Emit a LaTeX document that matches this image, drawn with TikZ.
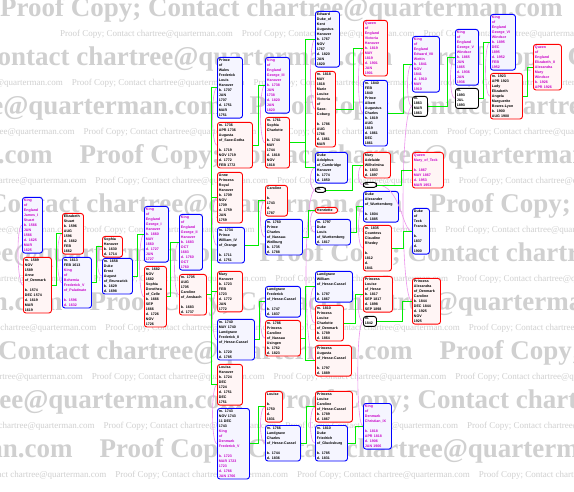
\documentclass[tikz,border=0pt]{standalone}
\usepackage{fontspec}
\setmainfont{Liberation Sans}
\newfontfamily\wmfont{Liberation Serif}
\usetikzlibrary{calc}

\definecolor{roy}{RGB}{200,0,200}
\definecolor{kingreen}{RGB}{0,235,0}
\definecolor{tiepink}{RGB}{238,150,238}
\definecolor{markgray}{RGB}{208,208,208}
\newcommand{\wm}{Proof Copy; Contact chartree@quarterman.com\quad}

\begin{document}
\begin{tikzpicture}[x=1pt, y=-1pt,
  person/.style={rectangle, draw, rounded corners=2.5pt, line width=0.9pt,
                 anchor=north west, align=left, inner xsep=1.5pt, inner ysep=1.5pt,
                 font=\fontsize{3.6}{5}\selectfont\bfseries},
  man/.style={person, draw=blue, fill=blue!4},
  woman/.style={person, draw=red, fill=red!4},
  union/.style={person, draw=black, fill=white},
  royal/.style={text=roy},
  kin/.style={draw=kingreen, line width=0.8pt},
  tie/.style={draw=tiepink, line width=0.6pt},
  wmtext/.style={anchor=west, text=markgray, inner sep=0pt},
]
  \useasboundingbox (0,0) rectangle (574,492);
  \fill[white] (0,0) rectangle (574,492);

  % watermark rows
  \begin{scope}
    \clip (0,0) rectangle (574,492);
    \foreach \k in {0,...,9} {
      \pgfmathsetmacro{\bx}{-mod(\k*170,520)}
      \node[wmtext, font=\wmfont\bfseries\fontsize{27}{27}\selectfont] (wmbig\k)
        at (\bx, 10+49*\k) {\wm\wm\wm};
      \node[wmtext, font=\wmfont\fontsize{9}{9}\selectfont] (wmsmall\k)
        at (\bx+60, 34+49*\k) {\wm\wm\wm\wm\wm\wm\wm\wm};
    }
  \end{scope}

  % Stuart
  \node[man, royal, text width=17pt] (jamesI) at (22,197) {King\\of\\England\\James\_I\\Stuart\\b. 1566\\JUN\\1566\\d. 1625\\MAR\\1625};
  \node[woman, text width=25pt] (anneD) at (23,257) {m. 1589\\NOV\\1589\\Anne\\of\_Denmark\\~\\b. 1574\\DEC 1574\\d. 1619\\MAR\\1619};
  \node[woman, text width=18pt] (elizabeth) at (62,213) {Elizabeth\\Stuart\\b. 1596\\AUG\\1596\\d. 1662\\FEB\\1662};
  \node[man, text width=26pt] (frederickP) at (62,257) {m. 1613\\FEB 1613\\\color{roy}King\\of\\Bohemia\\Frederick\_V\\of\_Palatinate\\~\\b. 1596\\d. 1632};
  \node[woman, text width=17pt] (sophia) at (102,236) {Sophia\\Hanover\\b. 1630\\d. 1714};
  \node[man, text width=27pt] (ernst) at (102,258) {m. 1658\\Duke\\Ernst\\August\\of\_Brunswick\\b. 1629\\d. 1698};

  % Hanover
  \node[man, royal, text width=21pt] (georgeI) at (144,206) {King\\of\\England\\George\_I\\Hanover\\b. 1660\\MAY\\1660\\d. 1727\\JUN\\1727};
  \node[woman, text width=19pt] (sophiaD) at (144,266) {m. 1682\\NOV\\1682\\Sophia\\Dorothea\\of\_Celle\\b. 1666\\SEP\\1666\\d. 1726\\NOV\\1726};
  \node[man, royal, text width=20pt] (georgeII) at (179,214) {King\\of\\England\\George\_II\\Hanover\\b. 1683\\OCT\\1683\\d. 1760\\OCT\\1760};
  \node[woman, text width=24pt] (carolineA) at (179,274) {m. 1705\\AUG\\1705\\Caroline\\of\_Ansbach\\~\\b. 1683\\d. 1737};

  \node[man, text width=22pt] (frederickW) at (217,57) {Prince\\of\\Wales\\Frederick\\Louis\\Hanover\\b. 1707\\JAN\\1707\\d. 1751\\MAR\\1751};
  \node[woman, text width=32pt] (augustaS) at (217,122) {m. 1736\\APR 1736\\Augusta\\of\_Saxe-Gotha\\~\\b. 1719\\NOV 1719\\d. 1772\\FEB 1772};
  \node[woman, text width=22pt] (anneH) at (217,172) {Anne\\Princess\\Royal\\Hanover\\b. 1709\\NOV\\1709\\d. 1759\\JAN\\1759};
  \node[man, text width=24pt] (williamO) at (217,227) {m. 1734\\Prince\\William\_IV\\of\_Orange\\~\\b. 1711\\d. 1751};
  \node[woman, text width=22pt] (maryH) at (217,271) {Mary\\Hanover\\b. 1723\\FEB\\1723\\d. 1772\\JAN\\1772};
  \node[man, text width=34pt] (frederickH) at (217,319) {m. 1740\\MAY 1740\\Landgrave\\Frederick\_II\\of\_Hesse-Cassel\\~\\b. 1720\\d. 1785};
  \node[woman, text width=22pt] (louisaH) at (217,364) {Louisa\\Hanover\\b. 1724\\DEC\\1724\\d. 1751\\DEC\\1751};
  \node[man, text width=29pt] (frederickD) at (217,408) {m. 1743\\NOV 1743\\11 DEC\\1743\\\color{roy}King\\of\\Denmark\\Frederick\_V\\~\\b. 1723\\MAR 1723\\1723\\d. 1766\\JAN 1766};

  \node[man, royal, text width=21pt] (georgeIII) at (265,57) {King\\of\\England\\George\_III\\Hanover\\b. 1738\\JUN\\1738\\d. 1820\\JAN\\1820};
  \node[woman, text width=21pt] (charlotte) at (265,117) {m. 1761\\Sophia\\Charlotte\\~\\b. 1744\\MAY\\1744\\d. 1818\\NOV\\1818};
  \node[woman, text width=19pt] (carolina) at (265,185) {Caroline\\~\\b.\\1743\\d.\\1787};
  \node[man, text width=34pt] (charlesN) at (265,219) {m. 1760\\Prince\\Charles\\of\_Nassau-\\Weilburg\\b. 1735\\d. 1788};
  \node[man, text width=32pt] (frederickHC) at (265,286) {Landgrave\\Frederick\\of\_Hesse-Cassel\\~\\b. 1747\\d. 1837};
  \node[woman, text width=32pt] (carolineN) at (265,320) {m. 1786\\Princess\\Caroline\\of\_Nassau\\Usingen\\b. 1762\\d. 1823};
  \node[woman, text width=14pt] (louiseD) at (265,391) {Louise\\~\\b.\\1750\\d.\\1831};
  \node[man, text width=32pt] (charlesH) at (265,425) {m. 1766\\Landgrave\\Charles\\of\_Hesse-Cassel\\~\\b. 1744\\d. 1836};

  \node[man, text width=21pt] (edwardK) at (315,11) {Edward\\Duke\_of\\Kent\\Augustus\\Hanover\\b. 1767\\NOV\\1767\\d. 1820\\JAN\\1820};
  \node[woman, text width=17pt] (victoriaS) at (315,71) {m. 1818\\MAY\\1818\\Marie\\Louise\\Victoria\\of\\Saxe-\\Coburg\\~\\b. 1786\\AUG\\1786\\d. 1861\\MAR};
  \node[man, text width=29pt] (adolphus) at (315,152) {Duke\\Adolphus\\of\_Cambridge\\Hanover\\b. 1774\\d. 1850};
  \node[union, text width=7pt] (mAdolphus) at (315,187) {m.};
  \node[woman, text width=19pt] (henriette) at (315,207) {Henriette};
  \node[man, text width=32pt] (louisW) at (315,219) {m. 1797\\Duke\\Louis\\of\_Wurttemberg\\d. 1817};
  \node[man, text width=34pt] (williamH) at (315,271) {Landgrave\\William\\of\_Hesse-Cassel\\~\\b. 1787\\d. 1867};
  \node[woman, text width=25pt] (louiseCD) at (315,305) {m. 1810\\Princess\\Louise\\Charlotte\\of\_Denmark\\b. 1789\\d. 1864};
  \node[woman, text width=33pt] (augustaH) at (315,345) {Princess\\Augusta\\of\_Hesse-Cassel\\~\\b. 1797\\d. 1889};
  \node[woman, text width=34pt] (louiseCH) at (315,391) {Princess\\Louise\\Caroline\\of\_Hesse-Cassel\\b. 1789\\d. 1867};
  \node[man, text width=29pt] (friedrichG) at (315,425) {m. 1810\\Duke\\Friedrich\\of\_Glucksburg\\~\\b. 1785\\d. 1831};

  \node[woman, royal, text width=21pt] (victoria) at (363,20) {Queen\\of\\England\\Victoria\\Hanover\\b. 1819\\MAY\\1819\\d. 1901\\JAN\\1901};
  \node[man, text width=21pt] (albert) at (363,80) {m. 1840\\FEB\\1840\\Prince\\Albert\\Augustus\\Charles\\b. 1819\\AUG\\1819\\d. 1861\\DEC\\1861};
  \node[woman, text width=24pt] (maryA) at (363,152) {Mary\\Adelaide\\Wilhelmina\\b. 1833\\d. 1897};
  \node[union, text width=10pt] (mMaryA) at (363,182) {m.};
  \node[man, text width=32pt] (alexander) at (363,191) {Duke\\Alexander\\of\_Wurttemberg\\~\\b. 1804\\d. 1885};
  \node[woman, text width=25pt] (claudine) at (363,225) {m. 1835\\Countess\\Claudine\\Rhedey\\~\\b.\\1812\\d.\\1841};
  \node[woman, text width=26pt] (louiseH) at (363,276) {Princess\\Louise\\of\_Hesse\\b. 1817\\SEP 1817\\d. 1898\\SEP 1898};
  \node[union, text width=10pt] (mLouise) at (363,316) {m.\\1842};
  \node[man, royal, text width=25pt] (christianIX) at (363,403) {King\\of\\Denmark\\Christian\_IX\\~\\b. 1818\\APR 1818\\d. 1906\\JAN 1906};

  \node[man, royal, text width=24pt] (edwardVII) at (412,36) {King\\of\\England\\Edward\_VII\\Wettin\\b. 1841\\NOV\\1841\\d. 1910\\MAY\\1910};
  \node[union, text width=12pt] (mEdward) at (412,96) {m.\\1863\\MAR\\1863};
  \node[woman, text width=28pt] (maryT) at (412,152) {\color{roy}Queen\\Mary\_of\_Teck\\~\\b. 1867\\MAY 1867\\d. 1953\\MAR 1953};
  \node[man, text width=14pt] (francis) at (412,208) {Duke\\of\\Teck\\Francis\\~\\b.\\1837\\d.\\1900};
  \node[woman, text width=25pt] (alexandra) at (412,278) {Princess\\Alexandra\\of\_Denmark\\Caroline\\b. 1844\\DEC 1844\\d. 1925\\NOV\\1925};

  \node[man, royal, text width=20pt] (georgeV) at (455,29) {King\\of\\England\\George\_V\\Windsor\\b. 1865\\JUN\\1865\\d. 1936\\JAN\\1936};
  \node[union, text width=20pt] (mGeorgeV) at (455,88) {m.\\1893\\JUL\\1893};
  \node[man, royal, text width=22pt] (georgeVI) at (490,14) {King\\of\\England\\George\_VI\\Windsor\\b. 1895\\DEC\\1895\\d. 1952\\FEB\\1952};
  \node[woman, text width=29pt] (bowesLyon) at (490,73) {m. 1923\\APR 1923\\Lady\\Elizabeth\\Angela\\Marguerite\\Bowes-Lyon\\b. 1900\\AUG 1900};
  \node[woman, royal, text width=25pt] (elizabethII) at (533,44) {Queen\\of\\England\\Elizabeth\_II\\Alexandra\\Mary\\Windsor\\b. 1926\\APR 1926};

  % marriages
  \foreach \p/\s in {jamesI/anneD, elizabeth/frederickP, sophia/ernst, georgeI/sophiaD,
      georgeII/carolineA, frederickW/augustaS, anneH/williamO, maryH/frederickH,
      louisaH/frederickD, georgeIII/charlotte, carolina/charlesN, frederickHC/carolineN,
      louiseD/charlesH, edwardK/victoriaS, adolphus/mAdolphus, henriette/louisW,
      williamH/louiseCD, louiseCH/friedrichG, victoria/albert, maryA/mMaryA,
      alexander/claudine, louiseH/mLouise, edwardVII/mEdward, georgeV/mGeorgeV,
      georgeVI/bowesLyon}
    \draw[tie] (\p.west) .. controls +(-6,0) and +(-6,0) .. (\s.west);
  \draw[tie] (mAdolphus.west) .. controls +(-12,0) and +(-12,0) .. (augustaH.west);
  \draw[tie] (mLouise.west) .. controls +(-7,0) and +(-7,0) .. (christianIX.west);
  \draw[tie] (mEdward.west) .. controls +(-12,0) and +(-12,0) .. (alexandra.west);
  \draw[tie] (mMaryA.east) .. controls +(24,0) and +(-10,0) .. (francis.west);

  % descent
  \foreach \s/\c/\d in {anneD/elizabeth/4, frederickP/sophia/4, ernst/georgeI/4,
      sophiaD/georgeII/3, carolineA/frederickW/4, carolineA/anneH/4, carolineA/maryH/4,
      carolineA/louisaH/4, augustaS/georgeIII/5, williamO/carolina/13,
      frederickH/frederickHC/4, frederickD/louiseD/8, charlotte/edwardK/15,
      charlotte/adolphus/15, charlesN/henriette/5, carolineN/williamH/4,
      carolineN/augustaH/4, charlesH/louiseCH/5, victoriaS/victoria/17,
      mAdolphus/maryA/26, louisW/alexander/5, louiseCD/louiseH/11,
      friedrichG/christianIX/7, albert/edwardVII/15, mMaryA/maryT/24,
      claudine/francis/11, mLouise/alexandra/25, mEdward/georgeV/19,
      mGeorgeV/georgeVI/4, bowesLyon/elizabethII/4}
    \draw[kin] (\s.east) -- ++(\d,0) |- (\c.west);
\end{tikzpicture}
\end{document}
